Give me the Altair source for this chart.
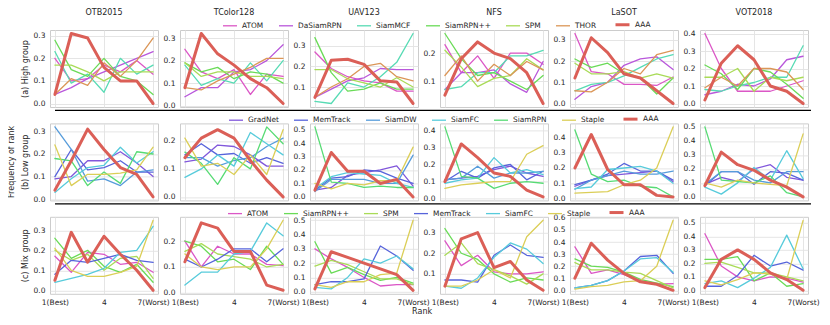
import altair as alt
import pandas as pd

RANKS = [1, 2, 3, 4, 5, 6, 7]
XTICKS = [1, 4, 7]
XTICK_LABELS = ["1(Best)", "4", "7(Worst)"]
DATASETS = ["OTB2015", "TColor128", "UAV123", "NFS", "LaSOT", "VOT2018"]
GROUPS = ["(a) High group", "(b) Low group", "(c) Mix group"]

HIGH_TRACKERS = ["ATOM", "DaSiamRPN", "SiamMCF", "SiamRPN++", "SPM", "THOR", "AAA"]
LOW_TRACKERS = ["GradNet", "MemTrack", "SiamDW", "SiamFC", "SiamRPN", "Staple", "AAA"]
MIX_TRACKERS = ["ATOM", "SiamRPN++", "SPM", "MemTrack", "SiamFC", "Staple", "AAA"]

COLORS = {
    "AAA": "#db5f57", "THOR": "#db9657", "Staple": "#dbce57", "SPM": "#a9db57",
    "SiamRPN++": "#6adb57", "SiamRPN": "#57db74", "SiamMCF": "#57dbb4",
    "SiamFC": "#57cbdb", "SiamDW": "#579cdb", "MemTrack": "#5764db",
    "GradNet": "#8157db", "DaSiamRPN": "#b957db", "ATOM": "#db57c6",
}

# ---- (a) High group ----
H_OTB2015 = {
    "ATOM": [0.20, 0.10, 0.11, 0.17, 0.14, 0.19, 0.13],
    "DaSiamRPN": [0.04, 0.07, 0.11, 0.14, 0.17, 0.20, 0.23],
    "SiamMCF": [0.23, 0.09, 0.13, 0.05, 0.20, 0.13, 0.17],
    "SiamRPN++": [0.28, 0.15, 0.12, 0.20, 0.12, 0.10, 0.04],
    "SPM": [0.17, 0.17, 0.14, 0.10, 0.14, 0.14, 0.14],
    "THOR": [0.04, 0.11, 0.08, 0.18, 0.12, 0.19, 0.29],
    "AAA": [0.04, 0.31, 0.29, 0.16, 0.10, 0.10, 0.00],
}
H_TCOLOR128 = {
    "ATOM": [0.25, 0.15, 0.12, 0.16, 0.05, 0.14, 0.13],
    "DaSiamRPN": [0.04, 0.08, 0.08, 0.15, 0.16, 0.20, 0.27],
    "SiamMCF": [0.18, 0.09, 0.12, 0.10, 0.19, 0.11, 0.20],
    "SiamRPN++": [0.19, 0.15, 0.17, 0.12, 0.15, 0.14, 0.10],
    "SPM": [0.19, 0.13, 0.15, 0.15, 0.13, 0.13, 0.12],
    "THOR": [0.08, 0.07, 0.11, 0.14, 0.17, 0.21, 0.21],
    "AAA": [0.08, 0.32, 0.23, 0.18, 0.12, 0.08, 0.01],
}
H_UAV123 = {
    "ATOM": [0.27, 0.19, 0.15, 0.13, 0.12, 0.08, 0.08],
    "DaSiamRPN": [0.05, 0.09, 0.13, 0.145, 0.19, 0.185, 0.185],
    "SiamMCF": [0.03, 0.02, 0.12, 0.10, 0.15, 0.22, 0.36],
    "SiamRPN++": [0.34, 0.17, 0.08, 0.09, 0.12, 0.09, 0.09],
    "SPM": [0.185, 0.185, 0.14, 0.12, 0.10, 0.145, 0.10],
    "THOR": [0.05, 0.10, 0.14, 0.20, 0.215, 0.15, 0.13],
    "AAA": [0.05, 0.23, 0.235, 0.21, 0.13, 0.125, 0.02],
}
H_NFS = {
    "ATOM": [0.23, 0.13, 0.19, 0.11, 0.20, 0.20, 0.16],
    "DaSiamRPN": [0.07, 0.13, 0.13, 0.14, 0.09, 0.06, 0.17],
    "SiamMCF": [0.07, 0.08, 0.13, 0.13, 0.19, 0.19, 0.21],
    "SiamRPN++": [0.27, 0.18, 0.12, 0.13, 0.10, 0.07, 0.12],
    "SPM": [0.21, 0.15, 0.08, 0.11, 0.12, 0.18, 0.14],
    "THOR": [0.12, 0.19, 0.10, 0.16, 0.12, 0.17, 0.14],
    "AAA": [0.05, 0.18, 0.24, 0.20, 0.18, 0.13, 0.02],
}
H_LASOT = {
    "ATOM": [0.33, 0.15, 0.14, 0.09, 0.09, 0.085, 0.125],
    "DaSiamRPN": [0.02, 0.08, 0.10, 0.18, 0.21, 0.22, 0.16],
    "SiamMCF": [0.06, 0.09, 0.10, 0.13, 0.17, 0.21, 0.23],
    "SiamRPN++": [0.21, 0.17, 0.19, 0.14, 0.12, 0.045, 0.12],
    "SPM": [0.19, 0.14, 0.14, 0.15, 0.12, 0.14, 0.12],
    "THOR": [0.06, 0.055, 0.10, 0.165, 0.14, 0.23, 0.25],
    "AAA": [0.12, 0.31, 0.24, 0.14, 0.12, 0.06, 0.00],
}
H_VOT2018 = {
    "ATOM": [0.40, 0.20, 0.07, 0.07, 0.07, 0.10, 0.13],
    "DaSiamRPN": [0.05, 0.07, 0.11, 0.10, 0.14, 0.25, 0.27],
    "SiamMCF": [0.08, 0.07, 0.10, 0.12, 0.15, 0.15, 0.33],
    "SiamRPN++": [0.22, 0.17, 0.08, 0.20, 0.18, 0.11, 0.03],
    "SPM": [0.15, 0.15, 0.20, 0.07, 0.15, 0.13, 0.15],
    "THOR": [0.09, 0.15, 0.10, 0.20, 0.20, 0.18, 0.08],
    "AAA": [0.02, 0.23, 0.33, 0.25, 0.10, 0.07, 0.00],
}

# ---- (b) Low group ----
L_OTB2015 = {
    "GradNet": [0.09, 0.10, 0.17, 0.17, 0.21, 0.16, 0.10],
    "MemTrack": [0.10, 0.22, 0.13, 0.14, 0.17, 0.12, 0.12],
    "SiamDW": [0.32, 0.22, 0.08, 0.09, 0.06, 0.12, 0.13],
    "SiamFC": [0.03, 0.09, 0.14, 0.15, 0.23, 0.16, 0.21],
    "SiamRPN": [0.18, 0.17, 0.06, 0.12, 0.07, 0.21, 0.20],
    "Staple": [0.24, 0.06, 0.11, 0.11, 0.115, 0.13, 0.23],
    "AAA": [0.04, 0.17, 0.31, 0.22, 0.14, 0.11, 0.01],
}
L_TCOLOR128 = {
    "GradNet": [0.125, 0.135, 0.185, 0.18, 0.15, 0.11, 0.11],
    "MemTrack": [0.15, 0.19, 0.15, 0.155, 0.12, 0.14, 0.12],
    "SiamDW": [0.14, 0.14, 0.11, 0.13, 0.14, 0.18, 0.21],
    "SiamFC": [0.07, 0.10, 0.15, 0.11, 0.23, 0.19, 0.15],
    "SiamRPN": [0.16, 0.12, 0.045, 0.14, 0.10, 0.25, 0.19],
    "Staple": [0.21, 0.11, 0.12, 0.08, 0.15, 0.08, 0.24],
    "AAA": [0.14, 0.21, 0.24, 0.21, 0.13, 0.06, 0.00],
}
L_UAV123 = {
    "GradNet": [0.05, 0.07, 0.16, 0.18, 0.20, 0.23, 0.08],
    "MemTrack": [0.05, 0.14, 0.15, 0.20, 0.19, 0.14, 0.10],
    "SiamDW": [0.04, 0.13, 0.13, 0.13, 0.10, 0.10, 0.31],
    "SiamFC": [0.06, 0.15, 0.18, 0.17, 0.16, 0.10, 0.07],
    "SiamRPN": [0.52, 0.11, 0.10, 0.07, 0.08, 0.07, 0.07],
    "Staple": [0.10, 0.06, 0.10, 0.09, 0.12, 0.12, 0.37],
    "AAA": [0.05, 0.33, 0.19, 0.19, 0.10, 0.13, 0.00],
}
L_NFS = {
    "GradNet": [0.11, 0.12, 0.13, 0.17, 0.19, 0.15, 0.13],
    "MemTrack": [0.10, 0.16, 0.12, 0.18, 0.20, 0.11, 0.16],
    "SiamDW": [0.11, 0.12, 0.19, 0.12, 0.15, 0.15, 0.16],
    "SiamFC": [0.09, 0.11, 0.12, 0.24, 0.15, 0.17, 0.14],
    "SiamRPN": [0.42, 0.13, 0.12, 0.06, 0.09, 0.10, 0.09],
    "Staple": [0.06, 0.08, 0.09, 0.10, 0.10, 0.26, 0.31],
    "AAA": [0.10, 0.32, 0.24, 0.15, 0.13, 0.05, 0.01],
}
L_LASOT = {
    "GradNet": [0.08, 0.12, 0.15, 0.16, 0.17, 0.18, 0.11],
    "MemTrack": [0.09, 0.12, 0.16, 0.23, 0.18, 0.18, 0.12],
    "SiamDW": [0.06, 0.12, 0.15, 0.18, 0.16, 0.16, 0.18],
    "SiamFC": [0.065, 0.075, 0.19, 0.20, 0.21, 0.18, 0.10],
    "SiamRPN": [0.45, 0.16, 0.11, 0.12, 0.08, 0.07, 0.01],
    "Staple": [0.035, 0.04, 0.045, 0.09, 0.12, 0.20, 0.47],
    "AAA": [0.20, 0.42, 0.19, 0.09, 0.09, 0.02, 0.01],
}
L_VOT2018 = {
    "GradNet": [0.09, 0.14, 0.11, 0.20, 0.23, 0.14, 0.12],
    "MemTrack": [0.08, 0.18, 0.18, 0.09, 0.18, 0.17, 0.12],
    "SiamDW": [0.09, 0.18, 0.18, 0.12, 0.10, 0.18, 0.18],
    "SiamFC": [0.07, 0.02, 0.10, 0.21, 0.12, 0.33, 0.13],
    "SiamRPN": [0.50, 0.12, 0.11, 0.10, 0.15, 0.03, 0.00],
    "Staple": [0.10, 0.07, 0.12, 0.10, 0.09, 0.08, 0.45],
    "AAA": [0.08, 0.32, 0.23, 0.19, 0.12, 0.07, 0.00],
}

# ---- (c) Mix group ----
M_OTB2015 = {
    "ATOM": [0.17, 0.09, 0.19, 0.18, 0.13, 0.14, 0.09],
    "SiamRPN++": [0.26, 0.16, 0.20, 0.12, 0.09, 0.13, 0.04],
    "SPM": [0.20, 0.15, 0.18, 0.10, 0.16, 0.17, 0.06],
    "MemTrack": [0.08, 0.15, 0.14, 0.16, 0.18, 0.15, 0.14],
    "SiamFC": [0.04, 0.06, 0.08, 0.11, 0.19, 0.20, 0.32],
    "Staple": [0.21, 0.10, 0.07, 0.07, 0.09, 0.12, 0.35],
    "AAA": [0.05, 0.29, 0.14, 0.27, 0.18, 0.10, 0.00],
}
M_TCOLOR128 = {
    "ATOM": [0.20, 0.10, 0.18, 0.15, 0.15, 0.11, 0.105],
    "SiamRPN++": [0.20, 0.18, 0.12, 0.13, 0.09, 0.18, 0.11],
    "SPM": [0.16, 0.19, 0.15, 0.14, 0.13, 0.10, 0.11],
    "MemTrack": [0.13, 0.10, 0.13, 0.17, 0.17, 0.12, 0.17],
    "SiamFC": [0.03, 0.08, 0.08, 0.15, 0.16, 0.27, 0.22],
    "Staple": [0.15, 0.10, 0.09, 0.10, 0.10, 0.17, 0.28],
    "AAA": [0.12, 0.27, 0.25, 0.16, 0.16, 0.03, 0.01],
}
M_UAV123 = {
    "ATOM": [0.30, 0.23, 0.17, 0.10, 0.04, 0.05, 0.05],
    "SiamRPN++": [0.35, 0.13, 0.17, 0.12, 0.08, 0.10, 0.06],
    "SPM": [0.18, 0.22, 0.19, 0.14, 0.09, 0.09, 0.05],
    "MemTrack": [0.05, 0.07, 0.07, 0.09, 0.32, 0.25, 0.15],
    "SiamFC": [0.03, 0.02, 0.10, 0.23, 0.20, 0.25, 0.16],
    "Staple": [0.05, 0.03, 0.07, 0.07, 0.12, 0.13, 0.50],
    "AAA": [0.02, 0.28, 0.24, 0.20, 0.16, 0.12, 0.01],
}
M_NFS = {
    "ATOM": [0.26, 0.14, 0.19, 0.11, 0.10, 0.10, 0.11],
    "SiamRPN++": [0.32, 0.20, 0.17, 0.10, 0.06, 0.08, 0.07],
    "SPM": [0.19, 0.25, 0.15, 0.12, 0.09, 0.05, 0.10],
    "MemTrack": [0.07, 0.07, 0.06, 0.19, 0.24, 0.19, 0.18],
    "SiamFC": [0.04, 0.03, 0.08, 0.18, 0.25, 0.22, 0.15],
    "Staple": [0.04, 0.04, 0.07, 0.12, 0.08, 0.28, 0.36],
    "AAA": [0.04, 0.27, 0.30, 0.13, 0.16, 0.07, 0.02],
}
M_LASOT = {
    "ATOM": [0.36, 0.14, 0.17, 0.13, 0.08, 0.05, 0.055],
    "SiamRPN++": [0.26, 0.20, 0.19, 0.15, 0.09, 0.06, 0.03],
    "SPM": [0.23, 0.17, 0.17, 0.15, 0.14, 0.08, 0.02],
    "MemTrack": [0.02, 0.04, 0.08, 0.16, 0.28, 0.29, 0.14],
    "SiamFC": [0.02, 0.04, 0.08, 0.16, 0.26, 0.27, 0.15],
    "Staple": [0.01, 0.03, 0.04, 0.07, 0.08, 0.20, 0.58],
    "AAA": [0.10, 0.39, 0.25, 0.14, 0.07, 0.05, 0.00],
}
M_VOT2018 = {
    "ATOM": [0.42, 0.18, 0.10, 0.07, 0.10, 0.09, 0.06],
    "SiamRPN++": [0.23, 0.23, 0.25, 0.07, 0.13, 0.03, 0.05],
    "SPM": [0.20, 0.21, 0.17, 0.13, 0.13, 0.10, 0.07],
    "MemTrack": [0.03, 0.03, 0.11, 0.26, 0.18, 0.21, 0.15],
    "SiamFC": [0.05, 0.07, 0.02, 0.09, 0.17, 0.41, 0.16],
    "Staple": [0.07, 0.04, 0.08, 0.13, 0.12, 0.08, 0.52],
    "AAA": [0.02, 0.23, 0.30, 0.23, 0.13, 0.08, 0.00],
}

ROW_DATA = [
    (HIGH_TRACKERS, [H_OTB2015, H_TCOLOR128, H_UAV123, H_NFS, H_LASOT, H_VOT2018]),
    (LOW_TRACKERS, [L_OTB2015, L_TCOLOR128, L_UAV123, L_NFS, L_LASOT, L_VOT2018]),
    (MIX_TRACKERS, [M_OTB2015, M_TCOLOR128, M_UAV123, M_NFS, M_LASOT, M_VOT2018]),
]

FONT = "DejaVu Sans"
TXT = "#262626"
PW, PH = 108, 77
COL_SPACING = 22
ROW_SPACING = -1.6
LEGEND_POS = [(172, -14), (178, -13), (177, -13)]

label_expr = " : ".join(
    f"datum.value == {v} ? '{lab}'" for v, lab in zip(XTICKS, XTICK_LABELS)
) + " : datum.label"


def make_panel(data, trackers, dataset, r, c):
    recs = [{"rank": k, "freq": v, "tracker": t}
            for t in trackers for k, v in zip(RANKS, data[t])]
    df = pd.DataFrame(recs)
    lo, hi = df["freq"].min(), df["freq"].max()
    pad = 0.05 * (hi - lo)
    dom = [lo - pad, hi + pad]
    yt = [k / 10 for k in range(0, 10) if dom[0] <= k / 10 <= dom[1]]
    last = r == 2
    xaxis = alt.Axis(values=XTICKS, labels=last, labelExpr=label_expr,
                     labelFlush=False, labelOverlap=False, labelBound=False,
                     labelPadding=5 if last else 3, title=None, grid=True)
    yaxis = alt.Axis(values=yt, format=".1f", labelPadding=5,
                     title=GROUPS[r] if c == 0 else None, titlePadding=4,
                     grid=True)
    lx, ly = LEGEND_POS[r]
    leg = alt.Legend(orient="none", legendX=lx, legendY=ly, direction="horizontal",
                     symbolType="stroke", symbolSize=196, labelFontSize=7.4,
                     labelFont=FONT, labelColor=TXT, columnPadding=12,
                     labelOffset=4, padding=0, rowPadding=0)
    ch = alt.Chart(df).mark_line(strokeCap="round", strokeJoin="round").encode(
        x=alt.X("rank:Q", scale=alt.Scale(domain=[0.7, 7.3], nice=False, zero=False), axis=xaxis),
        y=alt.Y("freq:Q", scale=alt.Scale(domain=dom, nice=False, zero=False), axis=yaxis),
        color=alt.Color("tracker:N", title=None, legend=leg,
                        scale=alt.Scale(domain=trackers, range=[COLORS[t] for t in trackers])),
        strokeWidth=alt.StrokeWidth("tracker:N", title=None, legend=leg,
                                    scale=alt.Scale(type="ordinal", domain=trackers,
                                                    range=[3.0 if t == "AAA" else 1.3 for t in trackers])),
    )
    if c == 0 and r > 0:
        # black frame line of the legend box above this row
        sep = alt.Chart(pd.DataFrame({"v": [0]})).mark_rule(color="black", strokeWidth=1.3).encode(
            x=alt.value(5), x2=alt.value(761), y=alt.value(-13))
        ch = alt.layer(ch, sep)
    ch = ch.properties(width=PW, height=PH)
    if r == 0:
        ch = ch.properties(title=alt.TitleParams(dataset, anchor="middle", offset=13,
                                                 fontSize=8, font=FONT, color=TXT,
                                                 fontWeight="normal"))
    return ch


rows = []
for r, (trackers, panels) in enumerate(ROW_DATA):
    charts = [make_panel(d, trackers, DATASETS[c], r, c) for c, d in enumerate(panels)]
    kw = {}
    if r == 2:
        kw["title"] = alt.TitleParams("Rank", orient="bottom", anchor="middle", dx=2,
                                      offset=1, fontSize=8, font=FONT, color=TXT,
                                      fontWeight="normal")
    row = alt.hconcat(*charts, spacing=COL_SPACING, bounds="flush", **kw).resolve_scale(
        color="shared", strokeWidth="shared", x="independent", y="independent")
    rows.append(row)

chart = alt.vconcat(
    *rows, spacing=ROW_SPACING,
    title=alt.TitleParams("Frequency of rank", orient="left", anchor="middle", offset=4.5,
                          fontSize=8, font=FONT, color=TXT, fontWeight="normal"),
).resolve_scale(color="independent", strokeWidth="independent").properties(
    padding={"left": 0, "top": 0, "right": 0, "bottom": 0}
).configure_view(stroke="#cccccc", strokeWidth=1).configure_axis(
    labelFont=FONT, labelFontSize=7.5, labelColor=TXT, titleFont=FONT, titleFontSize=8,
    titleColor=TXT, titleFontWeight="normal", gridColor="#e2e2e2", gridWidth=0.9,
    domain=False, ticks=False, tickSize=0
)

chart.save("out.html", embed_options={"renderer": "svg", "actions": False})
